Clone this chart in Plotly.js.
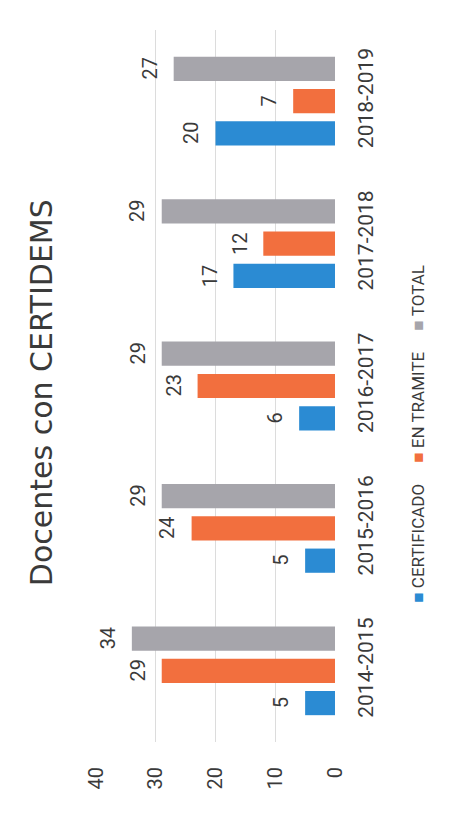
<!DOCTYPE html>
<html>
<head>
<meta charset="utf-8">
<script src="https://cdn.plot.ly/plotly-3.0.1.min.js"></script>
<style>html,body{margin:0;padding:0;background:#fff;}#chart{width:459px;height:814px;}</style>
</head>
<body>
<div id="chart"></div>
<script>
const categories = ["2014-2015", "2015-2016", "2016-2017", "2017-2018", "2018-2019"];
const certificado = [5, 5, 6, 17, 20];
const enTramite = [29, 24, 23, 12, 7];
const total = [34, 29, 29, 29, 27];
const seriesNames = ["CERTIFICADO", "EN TRAMITE", "TOTAL"];
const valueTicks = [0, 10, 20, 30, 40];

const colors = ["#2b8bd3", "#f26f3e", "#a6a5ab"];
const seriesValues = [certificado, enTramite, total];
const bargap = 0.32, bargroupgap = 0.25;
const txtFont = {family: "Roboto, sans-serif", size: 20, color: "#3a3a3a"};

const traces = seriesValues.map((vals, k) => ({
  type: "bar", orientation: "h", name: seriesNames[k],
  x: vals, y: categories,
  marker: {color: colors[k]},
  hoverinfo: "skip"
}));

const slot = (1 - bargap) / seriesValues.length;
const annotations = [];
seriesValues.forEach((vals, k) => {
  vals.forEach((v, i) => {
    annotations.push({
      xref: "x", yref: "y", x: v, y: i + (k - 1) * slot,
      text: String(v), showarrow: false, textangle: -90,
      xanchor: "center", yanchor: "middle", xshift: -24,
      font: txtFont
    });
  });
});

annotations.push({
  xref: "paper", yref: "paper", x: -0.23, y: 0.49,
  text: "Docentes con CERTIDEMS", showarrow: false, textangle: -90,
  xanchor: "center", yanchor: "middle",
  font: {family: "DejaVu Sans, sans-serif", size: 30, color: "#3a3a3a"}
});

const legendText = seriesNames.map((n, k) =>
  "<span style='color:" + colors[k] + "'>■</span>&nbsp;" + n).join("&nbsp;&nbsp;&nbsp;&nbsp;&nbsp;");
annotations.push({
  xref: "paper", yref: "paper", x: 1.347, y: 0.433,
  text: legendText, showarrow: false, textangle: -90,
  xanchor: "center", yanchor: "middle",
  font: {family: "Roboto, sans-serif", size: 17, color: "#3a3a3a"}
});

const layout = {
  width: 459, height: 814,
  margin: {l: 96, r: 124, t: 30, b: 72},
  paper_bgcolor: "#ffffff", plot_bgcolor: "#ffffff",
  showlegend: false,
  barmode: "group", bargap: bargap, bargroupgap: bargroupgap,
  xaxis: {
    range: [40, 0], tickvals: valueTicks, ticktext: valueTicks.map(String),
    tickangle: -90, tickfont: txtFont, ticklabelstandoff: 20,
    showgrid: true, gridcolor: "#dcdcdc", gridwidth: 1,
    zeroline: false, showline: false, fixedrange: true
  },
  yaxis: {
    type: "category", categoryorder: "array", categoryarray: categories,
    side: "right", tickangle: -90, tickfont: {family: "Roboto, sans-serif", size: 21, color: "#3a3a3a"},
    ticklabelstandoff: 16,
    showgrid: false, zeroline: false, showline: false, fixedrange: true
  },
  annotations: annotations
};

Plotly.newPlot("chart", traces, layout, {displayModeBar: false, staticPlot: true});
</script>
</body>
</html>
